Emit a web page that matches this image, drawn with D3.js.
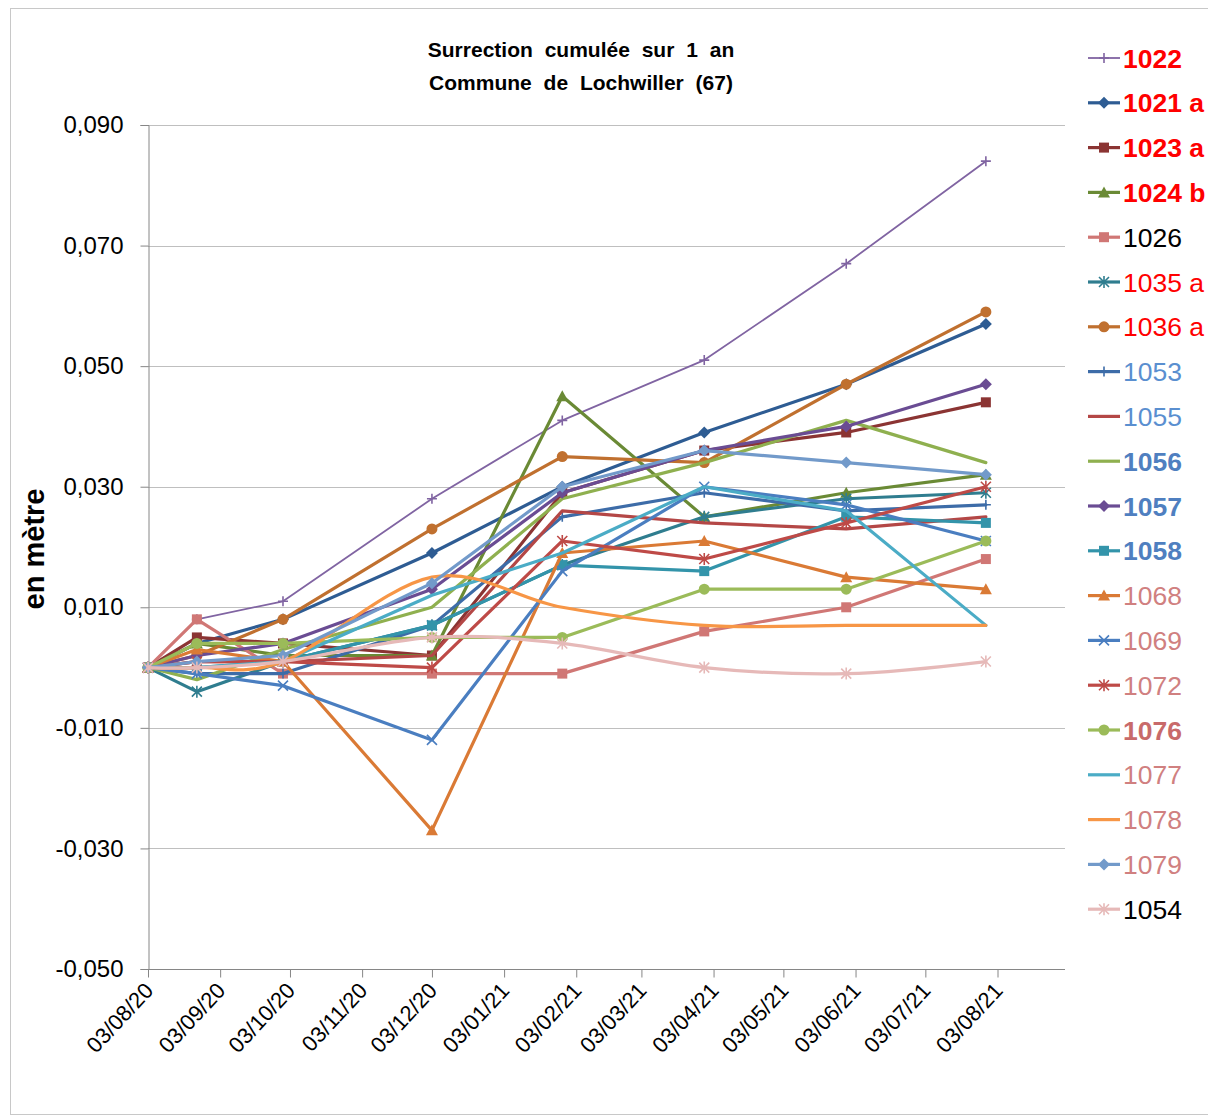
<!DOCTYPE html>
<html><head><meta charset="utf-8">
<script src="https://cdn.jsdelivr.net/npm/d3@7"></script>
<style>
html,body{margin:0;padding:0;background:#fff;}
svg{display:block;}
</style></head>
<body>
<svg id="chart" width="1208" height="1119"></svg>
<script>
// ---------- DATA ----------
const dates = ["2020-08-03","2020-08-24","2020-09-30","2020-12-03","2021-01-28","2021-03-30","2021-05-30","2021-07-29"];
const tickLabels = ["03/08/20","03/09/20","03/10/20","03/11/20","03/12/20","03/01/21","03/02/21","03/03/21","03/04/21","03/05/21","03/06/21","03/07/21","03/08/21"];
const yTicks = [-0.05,-0.03,-0.01,0.01,0.03,0.05,0.07,0.09];
const seriesNames = ["1022","1021 a","1023 a","1024 b","1026","1035 a","1036 a","1053","1055","1056","1057","1058","1068","1069","1072","1076","1077","1078","1079","1054"];
const s1022 = [0, 0.008, 0.011, 0.028, 0.041, 0.051, 0.067, 0.084];
const s1021a = [0, 0.004, 0.008, 0.019, 0.030, 0.039, 0.047, 0.057];
const s1023a = [0, 0.005, 0.004, 0.002, 0.029, 0.036, 0.039, 0.044];
const s1024b = [0, 0.004, 0.002, 0.002, 0.045, 0.025, 0.029, 0.032];
const s1026 = [0, 0.008, -0.001, -0.001, -0.001, 0.006, 0.010, 0.018];
const s1035a = [0, -0.004, 0.001, 0.007, 0.017, 0.025, 0.028, 0.029];
const s1036a = [0, 0.002, 0.008, 0.023, 0.035, 0.034, 0.047, 0.059];
const s1053 = [0, -0.001, -0.001, 0.007, 0.025, 0.029, 0.026, 0.027];
const s1055 = [0, 0.001, 0.001, 0.002, 0.026, 0.024, 0.023, 0.025];
const s1056 = [0, -0.002, 0.003, 0.010, 0.028, 0.034, 0.041, 0.034];
const s1057 = [0, 0.002, 0.004, 0.013, 0.029, 0.036, 0.040, 0.047];
const s1058 = [0, 0.000, 0.001, 0.007, 0.017, 0.016, 0.025, 0.024];
const s1068 = [0, 0.003, 0.001, -0.027, 0.019, 0.021, 0.015, 0.013];
const s1069 = [0, -0.001, -0.003, -0.012, 0.016, 0.030, 0.027, 0.021];
const s1072 = [0, 0.001, 0.001, 0.000, 0.021, 0.018, 0.024, 0.030];
const s1076 = [0, 0.004, 0.004, 0.005, 0.005, 0.013, 0.013, 0.021];
const s1077 = [0, 0.000, 0.001, 0.012, 0.019, 0.030, 0.026, 0.007];
const s1078 = [0, 0.000, 0.001, 0.015, 0.010, 0.007, 0.007, 0.007];
const s1079 = [0, 0.001, 0.002, 0.014, 0.030, 0.036, 0.034, 0.032];
const s1054 = [0, 0.000, 0.001, 0.005, 0.004, 0.000, -0.001, 0.001];
const seriesValues = [s1022,s1021a,s1023a,s1024b,s1026,s1035a,s1036a,s1053,s1055,s1056,s1057,s1058,s1068,s1069,s1072,s1076,s1077,s1078,s1079,s1054];

// ---------- STYLES ----------
const styles = [
  {c:"#8064A2", m:"plus",   w:1.8, lc:"#FF0000", b:true},
  {c:"#2E5C93", m:"diamond",w:3.2, lc:"#FF0000", b:true},
  {c:"#8B3433", m:"square", w:3.2, lc:"#FF0000", b:true},
  {c:"#6A8A35", m:"triangle",w:3.2,lc:"#FF0000", b:true},
  {c:"#D07775", m:"square", w:3.2, lc:"#000000", b:false},
  {c:"#2F7D8F", m:"star",   w:3.2, lc:"#FF0000", b:false},
  {c:"#C0702F", m:"circle", w:3.2, lc:"#FF0000", b:false},
  {c:"#3D6CA8", m:"plus",   w:3.2, lc:"#5A8FD0", b:false},
  {c:"#B44746", m:"none",   w:3.2, lc:"#5A8FD0", b:false},
  {c:"#8FB04F", m:"none",   w:3.2, lc:"#4F7FC0", b:true},
  {c:"#6A4C93", m:"diamond",w:3.2, lc:"#4F7FC0", b:true},
  {c:"#3394AA", m:"square", w:3.2, lc:"#4F7FC0", b:true},
  {c:"#DA7A35", m:"triangle",w:3.2,lc:"#D08080", b:false},
  {c:"#4A7EC0", m:"x",      w:3.2, lc:"#D08080", b:false},
  {c:"#BE4A47", m:"star",   w:3.2, lc:"#D08080", b:false},
  {c:"#9BBB59", m:"circle", w:3.2, lc:"#C86A6A", b:true},
  {c:"#4BACC6", m:"none",   w:3.2, lc:"#D08080", b:false},
  {c:"#F79646", m:"none",   w:3.2, lc:"#D08080", b:false, smooth:true},
  {c:"#729ACA", m:"diamond",w:3.2, lc:"#D08080", b:false},
  {c:"#E6B9B8", m:"star",   w:3.2, lc:"#000000", b:false, smooth:true}
];

// ---------- SETUP ----------
const svg = d3.select("#chart");
const parse = d3.utcParse("%Y-%m-%d");
const parseTick = d3.utcParse("%d/%m/%y");
const x = d3.scaleUtc().domain([parse("2020-08-03"), parse("2021-09-01")]).range([148, 1065]);
const y = d3.scaleLinear().domain([-0.05, 0.09]).range([969, 125]);
const fmt = v => d3.format(".3f")(v).replace(".", ",").replace("−","-");
const FONT = "Liberation Sans, Arial, sans-serif";

// outer frame
svg.append("rect").attr("x",10.5).attr("y",8.5).attr("width",1260).attr("height",1106)
  .attr("fill","none").attr("stroke","#C8C8C8").attr("stroke-width",1);

// gridlines
svg.append("g").selectAll("line").data(yTicks).join("line")
  .attr("x1",148).attr("x2",1065).attr("y1",d=>Math.round(y(d))+0.5).attr("y2",d=>Math.round(y(d))+0.5)
  .attr("stroke","#BFBFBF").attr("stroke-width",1);

// y axis
const yAxis = d3.axisLeft(y).tickValues(yTicks).tickSize(8).tickFormat(fmt);
const gy = svg.append("g").attr("transform","translate(148.5,0)").call(yAxis);
gy.select(".domain").attr("stroke","#868686");
gy.selectAll(".tick line").attr("stroke","#868686");
gy.selectAll(".tick text").attr("font-family",FONT).attr("font-size",24).attr("fill","#000").attr("x",-25);

// x axis
const tickDates = tickLabels.map(parseTick);
const xAxis = d3.axisBottom(x).tickValues(tickDates).tickSize(8).tickFormat((d,i)=>tickLabels[i]);
const gx = svg.append("g").attr("transform","translate(0,969.5)").call(xAxis);
gx.select(".domain").attr("stroke","#868686").attr("d","M148,0H1065");
gx.selectAll(".tick line").attr("stroke","#868686");
gx.selectAll(".tick text").attr("font-family",FONT).attr("font-size",22).attr("fill","#000")
  .attr("text-anchor","end").attr("dy",0).attr("y",0)
  .attr("transform","translate(6,22) rotate(-47)");

// title
const title = svg.append("text").attr("text-anchor","middle")
  .attr("font-family",FONT).attr("font-weight","bold").attr("font-size",21).attr("fill","#000").attr("word-spacing","6px");
title.append("tspan").attr("x",581).attr("y",57).text("Surrection cumulée sur 1 an");
title.append("tspan").attr("x",581).attr("y",90).text("Commune de Lochwiller (67)");

// y axis title
svg.append("text").attr("transform","translate(44,549) rotate(-90)").attr("text-anchor","middle")
  .attr("font-family",FONT).attr("font-weight","bold").attr("font-size",29).attr("fill","#000")
  .text("en mètre");

// ---------- MARKERS ----------
function drawMarker(g, type, color, cx, cy) {
  const s = 5;
  if (type === "circle") {
    g.append("circle").attr("cx",cx).attr("cy",cy).attr("r",5.5).attr("fill",color);
  } else if (type === "square") {
    g.append("rect").attr("x",cx-5).attr("y",cy-5).attr("width",10).attr("height",10).attr("fill",color);
  } else if (type === "diamond") {
    g.append("path").attr("d",`M${cx},${cy-6}L${cx+6},${cy}L${cx},${cy+6}L${cx-6},${cy}Z`).attr("fill",color);
  } else if (type === "triangle") {
    g.append("path").attr("d",`M${cx},${cy-6}L${cx+6},${cy+5}L${cx-6},${cy+5}Z`).attr("fill",color);
  } else if (type === "plus") {
    g.append("path").attr("d",`M${cx-s},${cy}H${cx+s}M${cx},${cy-s}V${cy+s}`).attr("stroke",color).attr("stroke-width",1.6).attr("fill","none");
  } else if (type === "x") {
    g.append("path").attr("d",`M${cx-s},${cy-s}L${cx+s},${cy+s}M${cx-s},${cy+s}L${cx+s},${cy-s}`).attr("stroke",color).attr("stroke-width",1.6).attr("fill","none");
  } else if (type === "star") {
    g.append("path").attr("d",`M${cx-s},${cy-s}L${cx+s},${cy+s}M${cx-s},${cy+s}L${cx+s},${cy-s}M${cx},${cy-s-1}V${cy+s+1}`).attr("stroke",color).attr("stroke-width",1.6).attr("fill","none");
  }
}

// ---------- SERIES ----------
const plot = svg.append("g");
seriesNames.forEach((name, i) => {
  const st = styles[i];
  const pts = seriesValues[i].map((v, j) => ({d: parse(dates[j]), v}));
  const line = d3.line().x(p => x(p.d)).y(p => y(p.v))
    .curve(st.smooth ? d3.curveCardinal.tension(0) : d3.curveLinear);
  const g = plot.append("g");
  g.append("path").datum(pts).attr("d", line).attr("fill","none")
    .attr("stroke", st.c).attr("stroke-width", st.w).attr("stroke-linejoin","round").attr("stroke-linecap","round");
  if (st.m !== "none") pts.forEach(p => drawMarker(g, st.m, st.c, x(p.d), y(p.v)));
});

// ---------- LEGEND ----------
const leg = svg.append("g");
seriesNames.forEach((name, i) => {
  const st = styles[i];
  const cy = 58 + i * 44.8;
  const g = leg.append("g");
  g.append("line").attr("x1",1088).attr("x2",1120).attr("y1",cy).attr("y2",cy)
    .attr("stroke",st.c).attr("stroke-width",st.w);
  if (st.m !== "none") drawMarker(g, st.m, st.c, 1104, cy);
  g.append("text").attr("x",1123).attr("y",cy+9.5)
    .attr("font-family",FONT).attr("font-size",26.5)
    .attr("font-weight", st.b ? "bold" : "normal").attr("fill", st.lc).text(name);
});
</script>
</body></html>
